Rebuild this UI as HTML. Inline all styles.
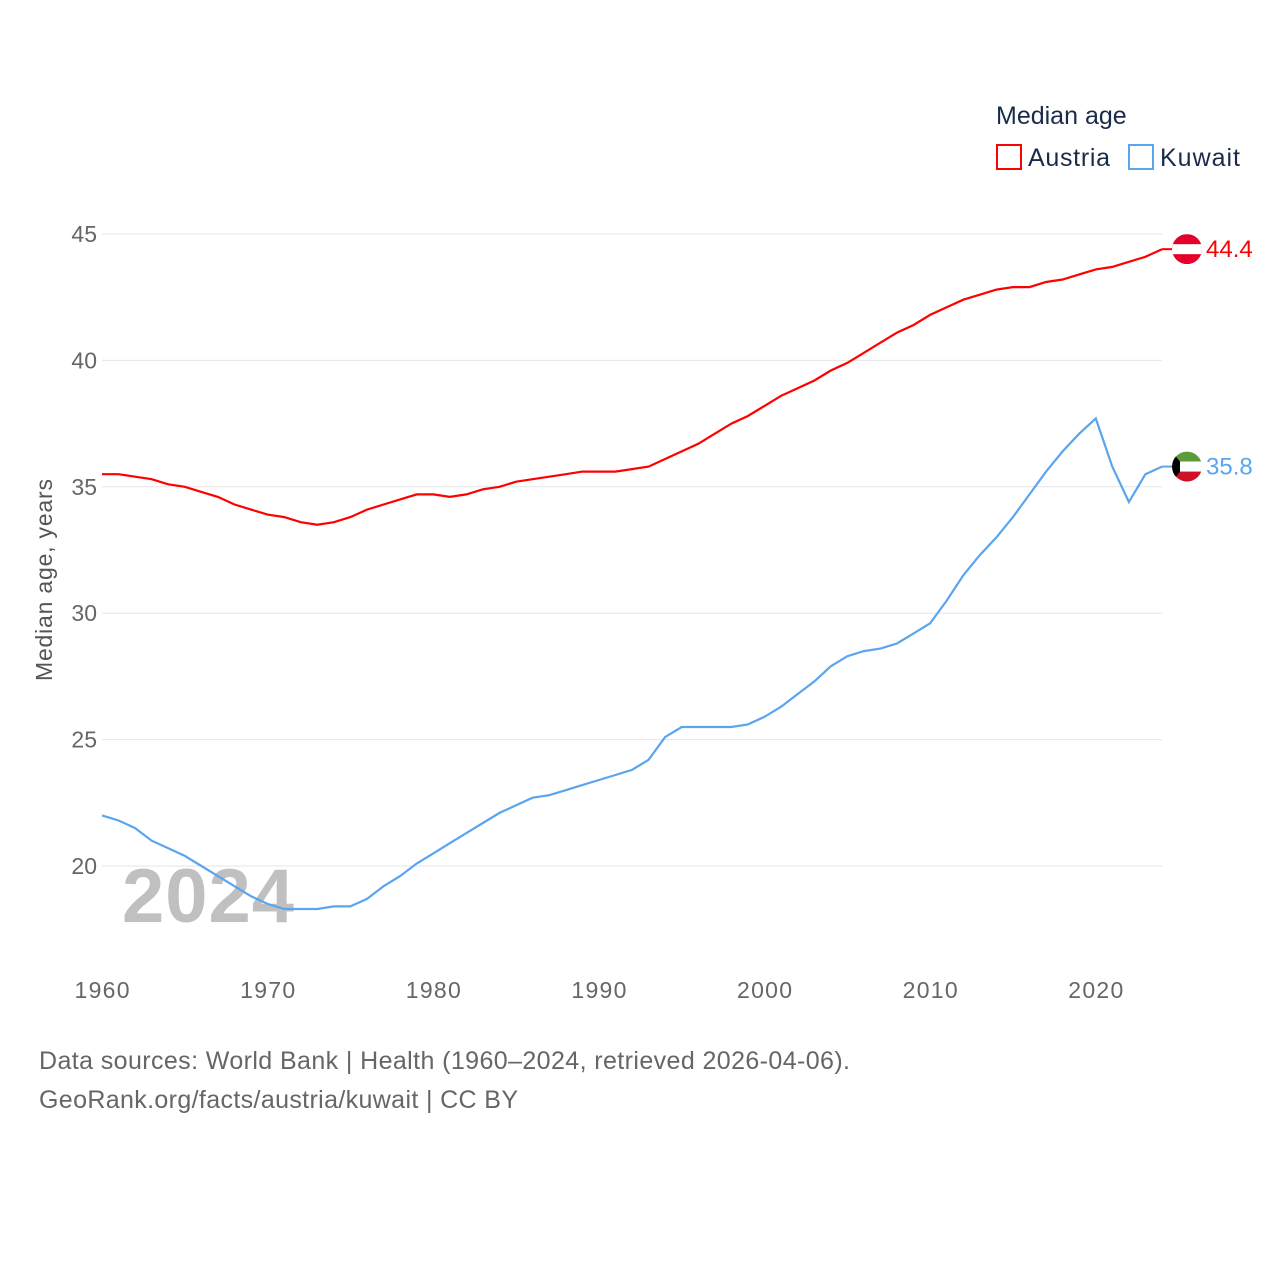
<!DOCTYPE html>
<html><head><meta charset="utf-8">
<style>
body{margin:0;background:#fff;font-family:"Liberation Sans",sans-serif}
svg text{font-family:"Liberation Sans",sans-serif}
</style></head>
<body>
<svg id="chart" width="1280" height="1280" viewBox="0 0 1280 1280">
<defs><clipPath id="kwclip"><circle cx="0" cy="0" r="15"/></clipPath></defs>
<text x="996" y="124" font-size="25" fill="#1a2b4a">Median age</text>
<rect x="997" y="145" width="24" height="24" fill="none" stroke="#f00" stroke-width="2"/>
<text x="1028" y="166" font-size="25" fill="#1a2b4a" textLength="82">Austria</text>
<rect x="1129" y="145" width="24" height="24" fill="none" stroke="#5ba4ee" stroke-width="2"/>
<text x="1160" y="166" font-size="25" fill="#1a2b4a" textLength="80">Kuwait</text>
<g id="grid"></g>
<text x="122" y="922" font-size="76" font-weight="bold" fill="#c0c0c0" textLength="172">2024</text>
<g id="series"></g>
<text transform="translate(52,580) rotate(-90)" text-anchor="middle" font-size="23" fill="#555" textLength="202">Median age, years</text>
<text x="39" y="1069" font-size="25" fill="#666" textLength="811">Data sources: World Bank | Health (1960–2024, retrieved 2026-04-06).</text>
<text x="39" y="1108" font-size="25" fill="#666" textLength="479">GeoRank.org/facts/austria/kuwait | CC BY</text>
</svg>
<script>
const years=[];for(let y=1960;y<=2024;y++)years.push(y);
const austria=[35.5,35.5,35.4,35.3,35.1,35.0,34.8,34.6,34.3,34.1,33.9,33.8,33.6,33.5,33.6,33.8,34.1,34.3,34.5,34.7,34.7,34.6,34.7,34.9,35.0,35.2,35.3,35.4,35.5,35.6,35.6,35.6,35.7,35.8,36.1,36.4,36.7,37.1,37.5,37.8,38.2,38.6,38.9,39.2,39.6,39.9,40.3,40.7,41.1,41.4,41.8,42.1,42.4,42.6,42.8,42.9,42.9,43.1,43.2,43.4,43.6,43.7,43.9,44.1,44.4];
const kuwait=[22.0,21.8,21.5,21.0,20.7,20.4,20.0,19.6,19.2,18.8,18.5,18.3,18.3,18.3,18.4,18.4,18.7,19.2,19.6,20.1,20.5,20.9,21.3,21.7,22.1,22.4,22.7,22.8,23.0,23.2,23.4,23.6,23.8,24.2,25.1,25.5,25.5,25.5,25.5,25.6,25.9,26.3,26.8,27.3,27.9,28.3,28.5,28.6,28.8,29.2,29.6,30.5,31.5,32.3,33.0,33.8,34.7,35.6,36.4,37.1,37.7,35.8,34.4,35.5,35.8];
const yTicks=[20,25,30,35,40,45];
const xTicks=[1960,1970,1980,1990,2000,2010,2020];
const NS="http://www.w3.org/2000/svg";
const X=v=>102+(v-1960)*(1162-102)/64;
const Y=v=>866-(v-20)*(866-234)/25;
const grid=document.getElementById('grid'),ser=document.getElementById('series');
function mk(tag,at,p){const e=document.createElementNS(NS,tag);for(const k in at)e.setAttribute(k,at[k]);p.appendChild(e);return e;}
yTicks.forEach(t=>{
 const l=mk('line',{x1:102,x2:1162,y1:Y(t),y2:Y(t),stroke:'#e6e6e6','stroke-width':1},grid);
 
 
 const tx=mk('text',{x:97,y:Y(t)+8,'text-anchor':'end','font-size':23,fill:'#666'},grid);tx.textContent=t;
 
 
});
xTicks.forEach(t=>{
 const tx=mk('text',{x:X(t),y:998,'text-anchor':'middle','font-size':23,fill:'#666',textLength:55},grid);tx.textContent=t;
 
 
});
function line(vals,color,name){
 const d=vals.map((v,i)=>(i?'L':'M')+X(years[i]).toFixed(1)+','+Y(v).toFixed(1)).join('');
 const p=mk('path',{d:d,fill:'none',stroke:color,'stroke-width':2.2},ser);
 
 
 const last=vals[vals.length-1],lx=X(years[years.length-1]),ly=Y(last);
 mk('line',{x1:lx,x2:lx+14,y1:ly,y2:ly,stroke:color,'stroke-width':2},ser);
 const cx=lx+25;
 const g=mk('g',{transform:`translate(${cx},${ly})`,'clip-path':'url(#kwclip)'},ser);
 
 
 if(name==='austria'){
  mk('rect',{x:-15,y:-15,width:30,height:30,fill:'#e4002b'},g);
  mk('rect',{x:-15,y:-5,width:30,height:10,fill:'#fff'},g);
 }else{
  mk('rect',{x:-15,y:-15,width:30,height:10,fill:'#5c9a3a'},g);
  mk('rect',{x:-15,y:-5,width:30,height:10,fill:'#fff'},g);
  mk('rect',{x:-15,y:5,width:30,height:10,fill:'#ce1126'},g);
  mk('path',{d:'M-15,-15L-7,-5L-7,5L-15,15Z',fill:'#000'},g);
 }
 const t=mk('text',{x:lx+44,y:ly+8,'font-size':24,fill:color},ser);t.textContent=last.toFixed(1);
 
 
}
line(austria,'#ff0000','austria');
line(kuwait,'#5ba4ee','kuwait');
</script>
</body></html>
